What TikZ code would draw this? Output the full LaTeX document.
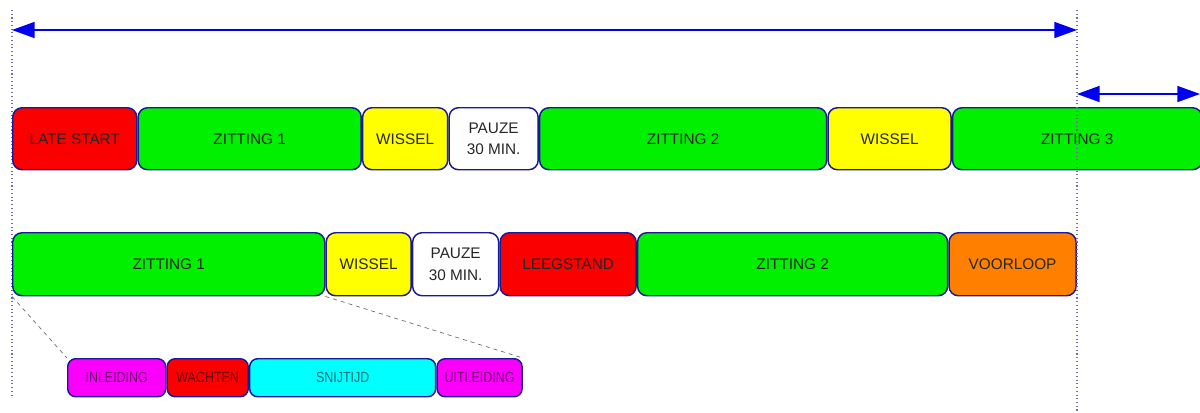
\documentclass[tikz,border=0pt]{standalone}
\usepackage{fontspec}
\setmainfont{Liberation Sans}
\newfontfamily\narrowsans[FakeStretch=0.85]{Liberation Sans}
\usepackage{xcolor}
\definecolor{slotgreen}{RGB}{0,240,0}
\definecolor{slotred}{RGB}{250,0,0}
\definecolor{slotyellow}{RGB}{255,255,0}
\definecolor{slotorange}{RGB}{255,128,0}
\definecolor{slotpink}{RGB}{250,0,250}
\definecolor{slotcyan}{RGB}{0,255,255}
\definecolor{slotedge}{RGB}{25,25,150}
\definecolor{guide}{RGB}{110,110,165}
\definecolor{spanblue}{RGB}{0,0,240}
\usepackage{tikz}
\usetikzlibrary{positioning,arrows.meta}

\begin{document}
\begin{tikzpicture}[
    x=0.75pt, y=-0.75pt,
    node distance=0pt,
    slot/.style={draw=slotedge, line width=1.1pt, rectangle, rounded corners=7pt, minimum height=46.5pt, inner sep=0pt, align=center, text=black!85, font=\fontsize{11.5}{16}\selectfont, fill=#1},
    subslot/.style={draw=slotedge, line width=1.1pt, rectangle, rounded corners=6pt, minimum height=28.5pt, inner sep=0pt, fill=#1, text=#1!45!black, font=\narrowsans\fontsize{11}{12}\selectfont},
    spanarrow/.style={{Triangle[length=17pt,width=12pt]}-{Triangle[length=17pt,width=12pt]}, line width=1.2pt, draw=spanblue},
    guideline/.style={draw=guide, dotted, line width=0.8pt},
    zoomline/.style={draw=black!60, dashed, line width=0.5pt}
]
\useasboundingbox (0,0) rectangle (1200,412);

% Guides and spans
\coordinate (lefttop) at (12,10);
\coordinate (leftbot) at (12,395);
\coordinate (righttop) at (1077,10);
\coordinate (rightbot) at (1077,412);
\coordinate (spanL) at (12,30);
\coordinate (spanR) at (1077,30);
\coordinate (extraL) at (1077,94);
\coordinate (extraR) at (1200,94);

\draw[guideline] (lefttop) -- (leftbot);

% First schedule
\node[slot=slotred, anchor=north west, minimum width=93pt] (late) at (12,107) {LATE START};
\node[slot=slotgreen, right=of late, minimum width=167.25pt] (zitA) {ZITTING 1};
\node[slot=slotyellow, right=of zitA, minimum width=63.75pt] (wisA) {WISSEL};
\node[slot=white, right=of wisA, minimum width=66.75pt] (pauzeA) {PAUZE\\30 MIN.};
\node[slot=slotgreen, right=of pauzeA, minimum width=215.25pt] (zitB) {ZITTING 2};
\node[slot=slotyellow, right=of zitB, minimum width=92.25pt] (wisB) {WISSEL};
\node[slot=slotgreen, right=of wisB, minimum width=187pt] (zitC) {ZITTING 3};

% Second schedule
\node[slot=slotgreen, anchor=north west, minimum height=47.25pt, minimum width=234pt] (zitD) at (12,232) {ZITTING 1};
\node[slot=slotyellow, right=of zitD, minimum height=47.25pt, minimum width=63.75pt] (wisC) {WISSEL};
\node[slot=white, right=of wisC, minimum height=47.25pt, minimum width=64.5pt] (pauzeB) {PAUZE\\30 MIN.};
\node[slot=slotred, right=of pauzeB, minimum height=47.25pt, minimum width=102pt] (leeg) {LEEGSTAND};
\node[slot=slotgreen, right=of leeg, minimum height=47.25pt, minimum width=232.5pt] (zitE) {ZITTING 2};
\node[slot=slotorange, right=of zitE, minimum height=47.25pt, minimum width=95.25pt] (voor) {VOORLOOP};

% Breakdown of one session
\node[subslot=slotpink, anchor=north west, minimum width=73.5pt] (inl) at (67,358) {INLEIDING};
\node[subslot=slotred, right=of inl, minimum width=60.75pt] (wacht) {WACHTEN};
\node[subslot=slotcyan, right=of wacht, minimum width=139.5pt] (snij) {SNIJTIJD};
\node[subslot=slotpink, right=of snij, minimum width=63.75pt] (uitl) {UITLEIDING};

\draw[zoomline] (zitD.south west) -- (inl.north west);
\draw[zoomline] (zitD.south east) -- (uitl.north east);

\draw[guideline] (righttop) -- (rightbot);
\draw[spanarrow] (spanL) -- (spanR);
\draw[spanarrow] (extraL) -- (extraR);

\end{tikzpicture}
\end{document}
